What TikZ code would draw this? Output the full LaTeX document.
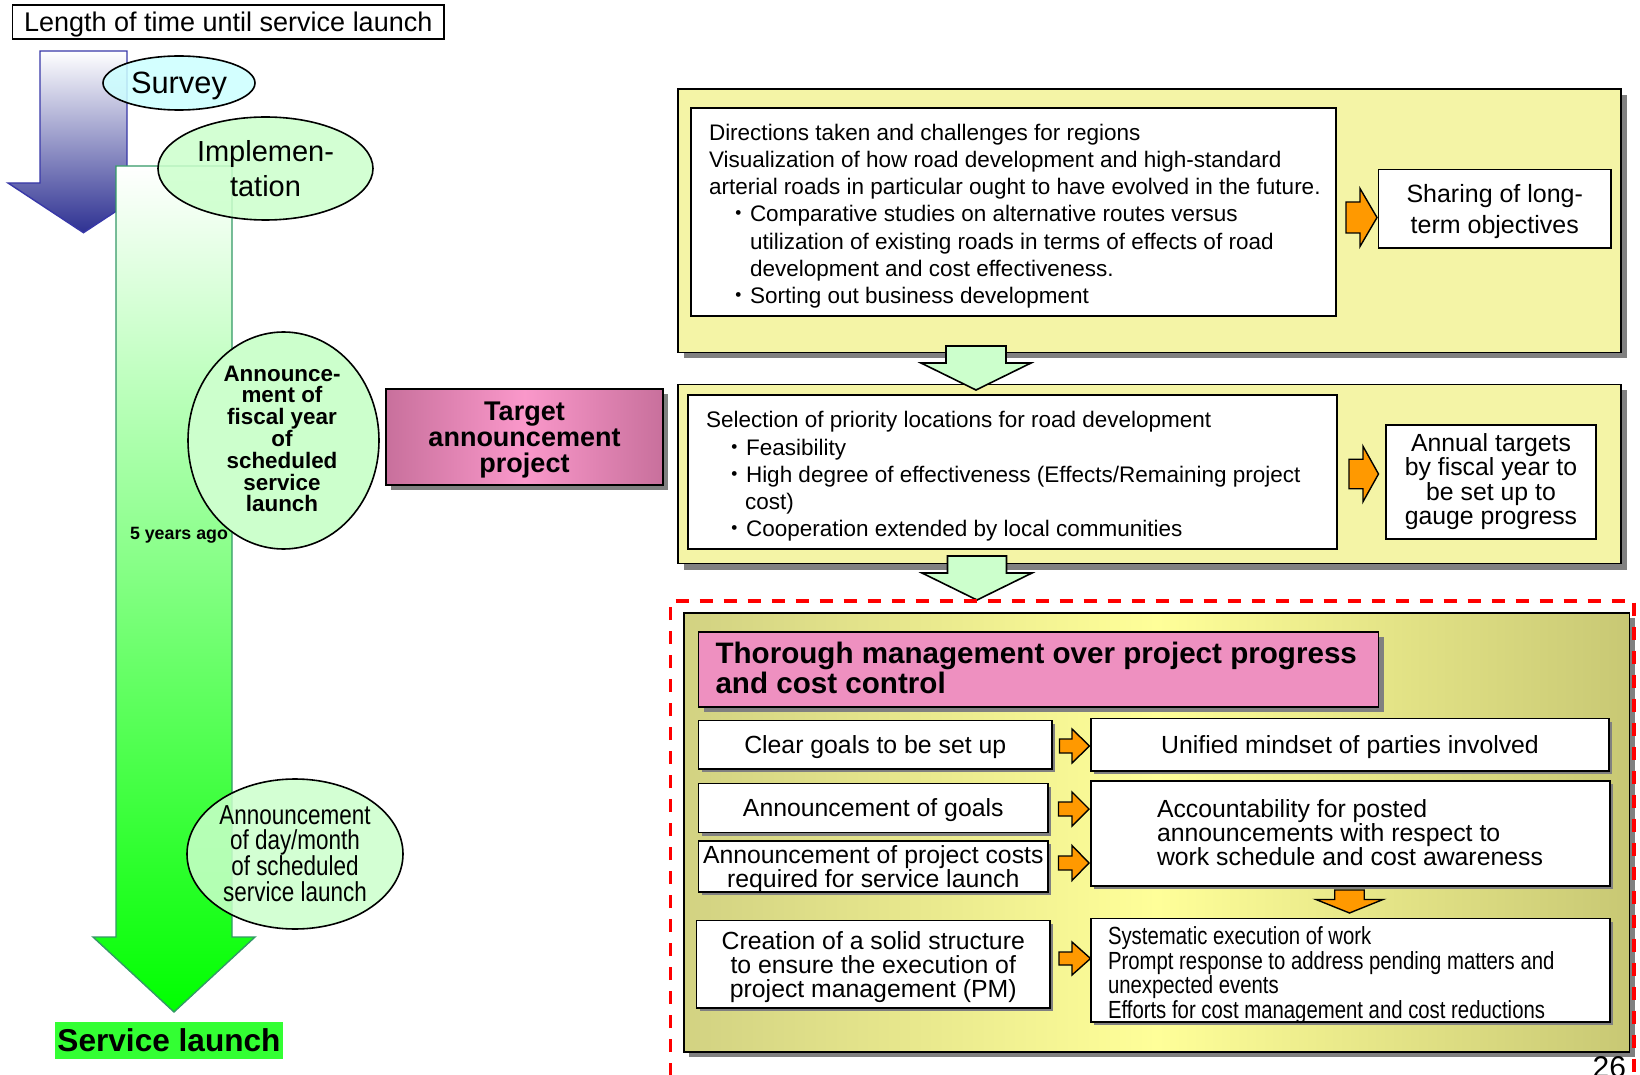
\documentclass[tikz,border=0pt]{standalone}
\usepackage{fontspec}
\setmainfont{Liberation Sans}
\newfontfamily\narrowfont{Liberation Sans}[FakeStretch=0.82]
\newfontfamily\cjkfont{Noto Sans CJK JP}
\usetikzlibrary{shapes.geometric,shadows}

\definecolor{arrowblue}{HTML}{2E3192}
\definecolor{bluedge}{HTML}{3838A8}
\definecolor{greenedge}{HTML}{339966}
\definecolor{brightgreen}{HTML}{00FF00}
\definecolor{midgreen}{HTML}{B4FFB4}
\definecolor{palegreen}{HTML}{CCFFCC}
\definecolor{palecyan}{HTML}{CCFFFF}
\definecolor{launchgreen}{HTML}{33FF33}
\definecolor{mauve}{HTML}{C8709C}
\definecolor{pinkmid}{HTML}{FA98CA}
\definecolor{pinkfill}{HTML}{EE90C0}
\definecolor{yellowfill}{HTML}{F4F4A6}
\definecolor{oliveleft}{HTML}{D2D282}
\definecolor{oliveright}{HTML}{C8C874}
\definecolor{lightyellow}{HTML}{FFFF99}
\definecolor{orangefill}{HTML}{FF9900}
\definecolor{shadowgray}{HTML}{808080}

\newcommand\fsz[2]{\fontsize{#1}{#2}\selectfont}
\newcommand\bul{{\cjkfont ・}}

% right-pointing orange block arrow: x-left, x-neck, x-tip, y-centre, half shaft, half head
\newcommand\orarrowR[6]{%
  \draw[orangeblk] ({#1},{#4-#5}) -- ({#2},{#4-#5}) -- ({#2},{#4-#6}) -- ({#3},{#4})
    -- ({#2},{#4+#6}) -- ({#2},{#4+#5}) -- ({#1},{#4+#5}) -- cycle;}
% downward block arrow: style, x-centre, y-top, y-neck, y-tip, half shaft, half head
\newcommand\blockdown[7]{%
  \path[#1] ({#2-#6},{#3}) -- ({#2+#6},{#3}) -- ({#2+#6},{#4}) -- ({#2+#7},{#4})
    -- ({#2},{#5}) -- ({#2-#7},{#4}) -- ({#2-#6},{#4}) -- cycle;}

\begin{document}
\begin{tikzpicture}[x=0.5pt,y=-0.5pt,
  every node/.style={inner sep=0pt, outer sep=0pt},
  low/.style={text depth=0pt},
  bx/.style={rectangle, draw=black, line width=0.9pt, fill=white},
  rowbox/.style={bx, drop shadow={shadow xshift=1.5pt, shadow yshift=-1.5pt, fill=shadowgray, opacity=1}},
  ybox/.style={rectangle, draw=black, line width=0.9pt, fill=yellowfill,
    drop shadow={shadow xshift=3pt, shadow yshift=-3pt, fill=shadowgray, opacity=1}},
  oval/.style={ellipse, draw=black, line width=0.8pt},
  orangeblk/.style={draw=black, line width=0.7pt, fill=orangefill, line join=miter},
  greenblk/.style={draw=black, line width=0.8pt, fill=palegreen, line join=miter},
  rowtext/.style={font=\fsz{12.4}{12}},
]
\path[use as bounding box, fill=white] (0,0) rectangle (1640,1075);

% ---------- time line on the left ----------
\blockdown{top color=white, bottom color=arrowblue, draw=bluedge, line width=0.7pt}{83.5}{51}{183}{232.7}{43.5}{75.5}
\blockdown{top color=white, middle color=midgreen, bottom color=brightgreen, draw=greenedge, line width=0.7pt}{174}{166}{937}{1012}{58}{81}

\node[oval, low, fill=palecyan, fill opacity=0.85, text opacity=1, minimum width=76pt, minimum height=27pt,
  font=\fsz{15.4}{18}] (survey) at (179,83) {Survey};
\node[oval, low, fill=palegreen, fill opacity=0.85, text opacity=1, minimum width=107.5pt, minimum height=51.5pt,
  align=center, font=\fsz{14.5}{17.25}] (impl) at (265.5,168.5) {Implemen-\\tation};

\node[oval, fill=palegreen, minimum width=95.5pt, minimum height=108.5pt] (fiscal) at (283.5,440.5) {};
\node[align=center, font=\bfseries\fsz{11.2}{10.9}] (fiscaltxt) at (282,439) {Announce-\\ment of\\fiscal year\\of\\scheduled\\service\\launch};
\node[font=\bfseries\fsz{8.9}{10}] (fiveyears) at (179,535.5) {5 years ago};

\node[oval, fill=palegreen, fill opacity=0.85, minimum width=108pt, minimum height=75pt] (daymonth) at (295,854) {};
\node[align=center, font=\narrowfont\fsz{13.7}{12.9}] (daymonthtxt) at (295,853.5) {Announcement\\of day/month\\of scheduled\\service launch};

\node[rectangle, fill=launchgreen, minimum width=114pt, minimum height=18.5pt,
  font=\bfseries\fsz{15.8}{18}] (launch) at (169,1040.5) {Service launch};

\node[rectangle, low, draw=black, line width=0.8pt, fill=white, minimum width=215.75pt, minimum height=17pt,
  font=\fsz{13.5}{16}] (title) at (228.25,22) {Length of time until service launch};

\node[rectangle, low, draw=black, line width=0.9pt, left color=mauve, right color=mauve, middle color=pinkmid,
  drop shadow={shadow xshift=2.5pt, shadow yshift=-2.5pt, fill=shadowgray, opacity=1},
  minimum width=138.5pt, minimum height=48pt, align=center, font=\bfseries\fsz{13.5}{13.1}] (target) at (524.5,437)
  {Target\\announcement\\project};

% ---------- long-term stage ----------
\node[ybox, minimum width=471.5pt, minimum height=131.75pt] (stage1) at (1149.5,220.75) {};
\node[bx, minimum width=322.5pt, minimum height=104pt] (dirs) at (1013.5,212) {};
\node[anchor=west, align=left, font=\fsz{11.25}{13.6}] (dirstxt) at (709,216)
  {Directions taken and challenges for regions\\
   Visualization of how road development and high-standard\\
   arterial roads in particular ought to have evolved in the future.\\
   \hspace*{9.25pt}\bul Comparative studies on alternative routes versus\\
   \hspace*{20.5pt}utilization of existing roads in terms of effects of road\\
   \hspace*{20.5pt}development and cost effectiveness.\\
   \hspace*{9.25pt}\bul Sorting out business development};
\orarrowR{1346}{1360}{1377}{217.5}{15.5}{29}
\node[bx, low, minimum width=116.25pt, minimum height=39.25pt, align=center, font=\fsz{12.5}{15.2}] (sharing)
  at (1494.75,208.75) {Sharing of long-\\term objectives};

% ---------- priority stage ----------
\node[ybox, minimum width=471.5pt, minimum height=89.5pt] (stage2) at (1149.5,474) {};
\node[bx, minimum width=324.5pt, minimum height=77pt] (prio) at (1012.5,472) {};
\node[anchor=west, align=left, font=\fsz{11.25}{13.6}] (priotxt) at (706,476.5)
  {Selection of priority locations for road development\\
   \hspace*{8.75pt}\bul Feasibility\\
   \hspace*{8.75pt}\bul High degree of effectiveness (Effects/Remaining project\\
   \hspace*{19.5pt}cost)\\
   \hspace*{8.75pt}\bul Cooperation extended by local communities};
\orarrowR{1349}{1363}{1378.5}{474}{14.7}{27.7}
\node[bx, minimum width=105pt, minimum height=57pt, align=center, font=\fsz{12.4}{12.2}] (annual)
  at (1491,481.7) {Annual targets\\by fiscal year to\\be set up to\\gauge progress};

\blockdown{greenblk}{976}{346}{363}{390}{30}{55}

% ---------- management stage ----------
\node[rectangle, draw=black, line width=0.9pt, left color=oliveleft, right color=oliveright, middle color=lightyellow,
  drop shadow={shadow xshift=2.5pt, shadow yshift=-2.5pt, fill=shadowgray, opacity=1},
  minimum width=472.75pt, minimum height=219.5pt] (stage3) at (1156.75,832.5) {};

\blockdown{greenblk}{977}{556}{573}{600}{29.5}{55}

\node[rectangle, draw=black, line width=0.9pt, fill=pinkfill,
  drop shadow={shadow xshift=2.5pt, shadow yshift=-2.5pt, fill=shadowgray, opacity=1},
  minimum width=340pt, minimum height=37.5pt] (mgmt) at (1038.5,669.5) {};
\node[anchor=west, align=left, font=\bfseries\fsz{14.8}{14.65}] (mgmttxt) at (715.5,668)
  {Thorough management over project progress\\and cost control};

\node[rowbox, low, rowtext, minimum width=176.75pt, minimum height=24.25pt] (goals) at (875.25,744.75) {Clear goals to be set up};
\node[rowbox, low, rowtext, minimum width=259pt, minimum height=26.25pt] (mindset) at (1350,744.75) {Unified mindset of parties involved};
\orarrowR{1059.5}{1072}{1089.5}{746}{7}{17}

\node[rowbox, low, rowtext, minimum width=174.75pt, minimum height=24.5pt] (announce) at (873.25,808) {Announcement of goals};
\orarrowR{1058.5}{1072}{1089}{809}{7}{17}
\node[rowbox, low, rowtext, minimum width=174.75pt, minimum height=25.5pt, align=center] (costs) at (873.25,866.5)
  {Announcement of project costs\\required for service launch};
\orarrowR{1058.5}{1072}{1089}{863}{7}{17.5}
\node[rowbox, minimum width=259.5pt, minimum height=52.5pt] (account) at (1350.5,833.5) {};
\node[anchor=west, align=left, rowtext] (accounttxt) at (1157,832.5)
  {Accountability for posted\\announcements with respect to\\work schedule and cost awareness};

\blockdown{orangeblk}{1349.5}{890}{899.5}{913}{14.75}{33.5}

\node[rowbox, low, rowtext, minimum width=176.75pt, minimum height=43.75pt, align=center] (pm) at (873.25,964.25)
  {Creation of a solid structure\\to ensure the execution of\\project management (PM)};
\orarrowR{1059}{1072}{1090.5}{958.5}{6.5}{16.5}
\node[rowbox, minimum width=259.5pt, minimum height=51.75pt] (exec) at (1350.5,970.25) {};
\node[anchor=west, align=left, font=\narrowfont\fsz{12.4}{12.2}] (exectxt) at (1108,975)
  {Systematic execution of work\\Prompt response to address pending matters and\\unexpected events\\Efforts for cost management and cost reductions};

\node[anchor=base east, font=\fsz{15}{18}] (page) at (1626,1077) {26};

\draw[red, line width=1.75pt, dash pattern=on 6.5pt off 5.5pt]
  (670.5,1100) -- (670.5,601) -- (1634,601) -- (1634,1100);
\end{tikzpicture}
\end{document}
